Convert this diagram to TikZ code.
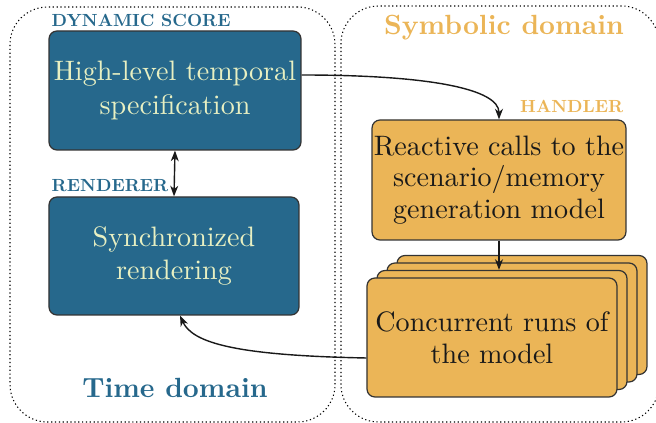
\documentclass[tikz,border=0pt]{standalone}
\usepackage{fontspec}
\setmainfont{lmroman10}[Extension=.otf, UprightFont=*-regular, BoldFont=*-bold, ItalicFont=*-italic]
\usepackage{tikz}
\usetikzlibrary{arrows.meta}

\definecolor{scoreblue}{RGB}{38,104,140}
\definecolor{scorecream}{RGB}{232,240,194}
\definecolor{handorange}{RGB}{235,181,87}

\begin{document}
\begin{tikzpicture}[
    areabox/.style={draw=black, dash pattern=on 0.7pt off 1.5pt, line width=0.6pt, rounded corners=0.75cm},
    timebox/.style={draw=black!80, fill=scoreblue, text=scorecream, rounded corners=0.16cm, line width=0.7pt, align=center, inner sep=1pt, font=\fontsize{16}{19}\selectfont},
    symbox/.style={draw=black!80, fill=handorange, text=black!90, rounded corners=0.16cm, line width=0.7pt, align=center, inner sep=1pt, minimum width=5cm, minimum height=2.38cm, font=\fontsize{16}{18}\selectfont},
    sidetag/.style={inner sep=0pt, font=\fontsize{10}{12}\selectfont\bfseries},
    areatitle/.style={inner sep=0pt, font=\fontsize{15.8}{19}\selectfont\bfseries},
    link/.style={draw=black!90, line width=0.8pt, >={Stealth[length=6pt, width=4.5pt, inset=1.8pt]}}
  ]
  \useasboundingbox (0,0) rectangle (13.12,8.46);

  % the two domains
  \node[areabox, minimum width=6.5cm, minimum height=8.3cm] (timearea) at (3.45,4.17) {};
  \node[areabox, minimum width=6.36cm, minimum height=8.32cm] (symarea) at (10.0,4.18) {};
  \node[areatitle, text=scoreblue, anchor=base] (timetitle) at (3.5,0.5) {Time domain};
  \node[areatitle, text=handorange, anchor=base] (symtitle) at (10.08,7.76) {Symbolic domain};

  % time side
  \node[timebox, minimum width=5.04cm, minimum height=2.38cm] (score) at (3.5,6.65) {High-level temporal\\specification};
  \node[timebox, minimum width=5cm, minimum height=2.36cm] (render) at (3.48,3.34) {Synchronized\\rendering};
  \node[sidetag, text=scoreblue, anchor=base west] (scoretag) at ([shift={(0.06,0.08)}]score.north west) {DYNAMIC SCORE};
  \node[sidetag, text=scoreblue, anchor=base west] (rendertag) at ([shift={(0.06,0.1)}]render.north west) {RENDERER};

  % symbolic side
  \node[symbox, minimum height=2.4cm, minimum width=4.96cm] (handler) at (9.98,4.86) {Reactive calls to the\\scenario/memory\\generation model};
  \node[sidetag, text=handorange, anchor=base east] (handlertag) at ([shift={(-0.06,0.14)}]handler.north east) {HANDLER};
  \coordinate (runpos) at (9.84,1.71);
  \foreach \i in {3,2,1}
    \node[symbox] (runc\i) at ([shift={(0.2*\i,0.15*\i)}]runpos) {};
  \node[symbox] (run) at (runpos) {Concurrent runs of\\the model};

  % links
  \draw[link,->] ([yshift=0.31cm]score.east) .. controls +(2.6,0) and +(0,0.6) .. (handler.north);
  \draw[link,<->] (score.south) -- (render.north);
  \draw[link,->] (handler.south) -- (handler.south |- runc1.north);
  \draw[link,->] ([yshift=-0.41cm]run.west) .. controls +(-2.6,0.05) and +(0.25,-0.55) .. ([xshift=0.12cm]render.south);
\end{tikzpicture}
\end{document}
